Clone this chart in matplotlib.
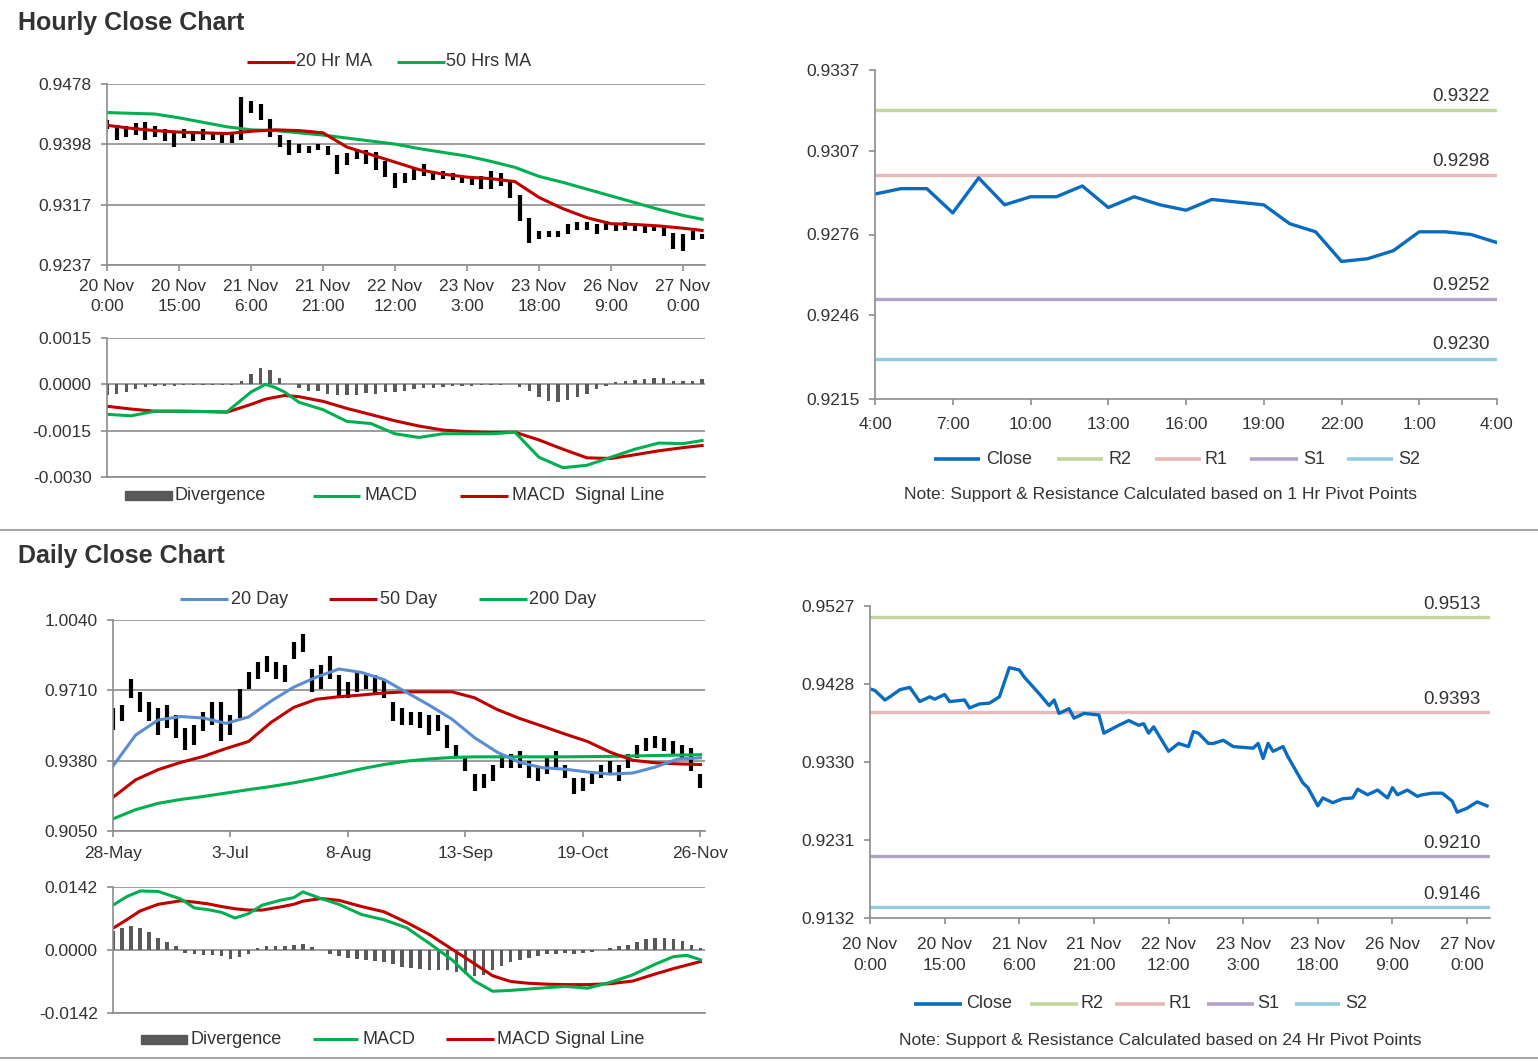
import matplotlib.pyplot as plt
from matplotlib.lines import Line2D
from matplotlib.patches import Rectangle

plt.rcParams['font.family'] = ['Liberation Sans', 'DejaVu Sans']

# ---------------- hourly data (x = hours from 20 Nov 0:00, weekend removed) ----------------
hr_tick_x = [0, 15, 30, 45, 60, 75, 90, 105, 120]
hr_tick_labels = ['20 Nov\n0:00', '20 Nov\n15:00', '21 Nov\n6:00', '21 Nov\n21:00', '22 Nov\n12:00',
                  '23 Nov\n3:00', '23 Nov\n18:00', '26 Nov\n9:00', '27 Nov\n0:00']

hr_bar_x = list(range(0, 125, 2))
hr_hi = [.9430, .9424, .9422, .9426, .9428, .9422, .9418, .9416, .9418, .9416, .9418, .9414, .9410, .9414,
         .9461, .9455, .9452, .9432, .9410, .9404, .9398, .9396, .9398, .9396, .9384, .9386, .9392, .9390,
         .9388, .9376, .9360, .9360, .9366, .9372, .9362, .9362, .9360, .9356, .9354, .9356, .9362, .9360,
         .9350, .9330, .9300, .9282, .9282, .9282, .9292, .9294, .9294, .9292, .9296, .9292, .9294, .9290,
         .9290, .9290, .9288, .9280, .9278, .9282, .9278]
hr_lo = [.9418, .9404, .9408, .9410, .9404, .9408, .9402, .9394, .9406, .9402, .9404, .9404, .9400, .9400,
         .9404, .9440, .9430, .9408, .9394, .9384, .9386, .9386, .9390, .9384, .9358, .9370, .9378, .9372,
         .9364, .9354, .9340, .9346, .9350, .9356, .9350, .9352, .9350, .9346, .9344, .9338, .9338, .9342,
         .9326, .9296, .9266, .9272, .9274, .9274, .9278, .9284, .9284, .9278, .9284, .9282, .9284, .9282,
         .9280, .9282, .9276, .9258, .9256, .9270, .9272]

hr_ma_x = [0, 5, 10, 15, 20, 25, 30, 35, 40, 45, 50, 55, 60, 65, 70, 75, 80, 85, 90, 95, 100, 105, 110,
           115, 120, 124]
ma20_hr = [.9423, .9419, .9416, .9414, .9413, .9412, .9415, .9417, .9416, .9413, .9394, .9384, .9374,
           .9364, .9358, .9354, .9352, .9348, .9327, .9312, .9300, .9292, .9291, .9289, .9286, .9283]
ma50_hr = [.9440, .9439, .9438, .9433, .9427, .9421, .9417, .9416, .9413, .9410, .9406, .9402, .9398,
           .9392, .9387, .9382, .9375, .9367, .9355, .9347, .9338, .9329, .9320, .9311, .9303, .9298]

hr_macd_x = [0, 5, 10, 15, 20, 25, 30, 33, 35, 37, 40, 45, 50, 55, 60, 65, 70, 75, 80, 85, 90, 95, 100,
             105, 110, 115, 120, 124]
macd_hr = [-.00097, -.00102, -.00087, -.00087, -.00088, -.00089, -.00025, .00000, -.00010, -.00025,
           -.00058, -.00082, -.00120, -.00127, -.00160, -.00172, -.00160, -.00160, -.00160, -.00155,
           -.00236, -.00270, -.00262, -.00236, -.00210, -.00190, -.00192, -.00182]
signal_hr = [-.00071, -.00080, -.00087, -.00087, -.00088, -.00090, -.00065, -.00048, -.00042, -.00036,
             -.00040, -.00055, -.00078, -.00098, -.00118, -.00135, -.00148, -.00153, -.00156, -.00155,
             -.00180, -.00210, -.00238, -.00240, -.00228, -.00215, -.00205, -.00198]
div_hr = [-.00034, -.00030, -.00024, -.00015, -.00008, -.00005, -.00004, -.00004, -.00003, -.00003,
          -.00003, -.00002, -.00002, -.00001, .00012, .00035, .00052, .00045, .00020, .00002, -.00012,
          -.00020, -.00022, -.00030, -.00036, -.00035, -.00033, -.00028, -.00030, -.00026, -.00024,
          -.00020, -.00016, -.00012, -.00012, -.00009, -.00006, -.00005, -.00004, -.00003, -.00002,
          -.00001, .00000, -.00010, -.00022, -.00040, -.00055, -.00058, -.00052, -.00040, -.00030,
          -.00015, -.00004, .00006, .00010, .00014, .00017, .00020, .00019, .00012, .00010, .00010, .00016]

# last 24 hours close (26 Nov 4:00 -> 27 Nov 4:00)
close24_labels = ['4:00', '7:00', '10:00', '13:00', '16:00', '19:00', '22:00', '1:00', '4:00']
close24 = [.9291, .9293, .9293, .9284, .9297, .9287, .9290, .9290, .9294, .9286, .9290, .9287, .9285,
           .9289, .9288, .9287, .9280, .9277, .9266, .9267, .9270, .9277, .9277, .9276, .9273]
hr_levels = [0.9322, 0.9298, 0.9252, 0.9230]

# full-week hourly close for the lower right chart
wk_x = [0, 1, 3, 4, 6, 8, 10, 12, 13, 15, 16, 19, 20, 22, 24, 26, 28, 30, 31, 34, 36, 37, 38, 40, 41, 43,
        46, 47, 50, 52, 54, 55, 56, 57, 60, 62, 64, 65, 66, 68, 69, 71, 73, 77, 78, 79, 80, 81, 83, 84, 87,
        88, 90, 91, 93, 95, 97, 98, 100, 102, 104, 105, 106, 108, 110, 111, 113, 115, 117, 118, 120, 122,
        124]
wk_close = [.9422, .9420, .9408, .9412, .9421, .9424, .9406, .9412, .9409, .9415, .9406, .9408, .9398,
            .9403, .9404, .9412, .9449, .9446, .9437, .9416, .9401, .9408, .9391, .9397, .9385, .9391,
            .9389, .9366, .9376, .9382, .9376, .9378, .9366, .9374, .9343, .9353, .9349, .9368, .9366,
            .9353, .9353, .9357, .9349, .9347, .9353, .9334, .9353, .9343, .9349, .9336, .9303, .9297,
            .9274, .9284, .9278, .9283, .9284, .9295, .9288, .9294, .9284, .9297, .9288, .9294, .9286,
            .9288, .9290, .9290, .9280, .9266, .9271, .9279, .9274]
day_levels = [0.9513, 0.9393, 0.9210, 0.9146]

# ---------------- daily data (x = trading day index from 28-May) ----------------
day_tick_x = [0, 26, 52, 78, 104, 130]
day_tick_labels = ['28-May', '3-Jul', '8-Aug', '13-Sep', '19-Oct', '26-Nov']

day_bar_x = list(range(0, 131, 2))
day_hi = [.9625, .9641, .9765, .9703, .9656, .9625, .9641, .9594, .9533, .9548, .9610, .9656, .9656,
          .9594, .9718, .9796, .9842, .9873, .9842, .9827, .9935, .9973, .9811, .9827, .9873, .9780,
          .9749, .9796, .9780, .9780, .9765, .9656, .9625, .9610, .9610, .9594, .9594, .9548, .9455,
          .9393, .9316, .9316, .9362, .9409, .9409, .9424, .9378, .9347, .9393, .9424, .9362, .9300,
          .9300, .9331, .9362, .9378, .9362, .9409, .9455, .9486, .9494, .9486, .9471, .9455, .9440, .9316]
day_lo = [.9525, .9564, .9672, .9610, .9564, .9502, .9533, .9486, .9432, .9455, .9517, .9548, .9471,
          .9502, .9579, .9718, .9765, .9796, .9765, .9749, .9857, .9888, .9703, .9718, .9765, .9672,
          .9672, .9703, .9718, .9687, .9672, .9564, .9548, .9548, .9533, .9502, .9517, .9440, .9393,
          .9331, .9239, .9254, .9285, .9347, .9347, .9347, .9300, .9285, .9316, .9347, .9300, .9223,
          .9239, .9270, .9300, .9316, .9285, .9347, .9393, .9424, .9440, .9424, .9409, .9393, .9331, .9254]

day_ma_x = [0, 5, 10, 15, 20, 25, 30, 35, 40, 45, 50, 55, 60, 65, 70, 75, 80, 85, 90, 95, 100, 105, 110,
            115, 120, 125, 130]
ma20_day = [.9355, .9500, .9571, .9587, .9580, .9555, .9585, .9660, .9725, .9772, .9810, .9794, .9760,
            .9700, .9640, .9575, .9488, .9420, .9372, .9347, .9340, .9327, .9317, .9322, .9350, .9388, .9393]
ma50_day = [.9208, .9290, .9338, .9372, .9400, .9437, .9470, .9560, .9630, .9668, .9680, .9688, .9698,
            .9703, .9703, .9703, .9675, .9620, .9578, .9542, .9505, .9470, .9420, .9382, .9370, .9365, .9362]
ma200_day = [.9107, .9150, .9180, .9198, .9212, .9228, .9244, .9259, .9276, .9296, .9318, .9342, .9362,
             .9378, .9388, .9395, .9398, .9398, .9398, .9398, .9398, .9399, .9400, .9402, .9404, .9406, .9408]

day_macd_x = [0, 3, 6, 10, 15, 18, 21, 24, 27, 30, 33, 37, 40, 42, 46, 50, 55, 60, 65, 70, 75, 80, 84,
              88, 92, 96, 100, 105, 110, 115, 120, 124, 127, 130]
macd_day = [.0101, .0120, .0133, .0132, .0115, .0095, .0091, .0085, .0072, .0082, .0101, .0112, .0118,
            .0131, .0116, .0103, .0080, .0068, .0050, .0015, -.0022, -.0070, -.0093, -.0091, -.0088,
            -.0085, -.0082, -.0086, -.0073, -.0056, -.0032, -.0015, -.0012, -.0022]
signal_day = [.0049, .0068, .0088, .0103, .0111, .0108, .0104, .0098, .0093, .0090, .0090, .0097, .0103,
              .0110, .0116, .0112, .0098, .0086, .0062, .0035, .0002, -.0031, -.0058, -.0071, -.0075,
              -.0077, -.0078, -.0078, -.0076, -.0070, -.0054, -.0042, -.0034, -.0026]
div_day = [.0042, .0050, .0054, .0050, .0040, .0028, .0018, .0008, -.0006, -.0010, -.0012, -.0012, -.0014,
           -.0020, -.0016, -.0008, .0004, .0010, .0010, .0009, .0011, .0014, .0006, .0000, -.0008, -.0014,
           -.0018, -.0020, -.0022, -.0024, -.0026, -.0032, -.0038, -.0040, -.0042, -.0044, -.0046, -.0046,
           -.0050, -.0054, -.0058, -.0056, -.0046, -.0036, -.0028, -.0022, -.0018, -.0014, -.0010, -.0008,
           -.0006, -.0008, -.0006, -.0004, .0000, .0004, .0008, .0012, .0018, .0024, .0026, .0026, .0024,
           .0020, .0012, .0004]

# ---------------- colours ----------------
RED = '#C00000'
GREEN = '#00B050'
BLUE20 = '#5B8ED0'
CLOSE = '#0A6CC0'
DIVC = '#595959'
AX = '#8C8C8C'
TXT = '#333333'
lvl_names = ['R2', 'R1', 'S1', 'S2']
lvl_colors = ['#C3D69B', '#E6B9B8', '#B3A2C7', '#93CDDD']

W, H = 1538, 1061
fig = plt.figure(figsize=(W / 100, H / 100), dpi=100)


def px_axes(x0, y0, x1, y1):
    return fig.add_axes([x0 / W, 1 - y1 / H, (x1 - x0) / W, (y1 - y0) / H])


def fline(x0, x1, y, color, lw=2.2):
    fig.add_artist(Line2D([x0 / W, x1 / W], [1 - y / H, 1 - y / H], color=color, lw=lw,
                          solid_capstyle='butt'))


def ftext(x, y, s, size=13, **kw):
    fig.text(x / W, 1 - y / H, s, fontsize=size, color=TXT, va='center', **kw)


def fbox(x0, x1, y, h, color):
    fig.add_artist(Rectangle((x0 / W, 1 - (y + h / 2) / H), (x1 - x0) / W, h / H, color=color,
                             transform=fig.transFigure))


def style(ax, grid):
    ax.spines['top'].set_visible(False)
    ax.spines['right'].set_visible(False)
    ax.spines['left'].set_color(AX)
    ax.spines['bottom'].set_color(AX)
    ax.spines['left'].set_linewidth(1.2)
    ax.spines['bottom'].set_linewidth(1.2)
    ax.tick_params(colors=AX, labelcolor=TXT, labelsize=12.5, length=4, width=1.2, pad=7)
    if grid:
        ax.yaxis.grid(True, color=AX, lw=1.2)
        ax.set_axisbelow(True)


def set_yticks(ax, ticks):
    ax.set_yticks(ticks)
    ax.set_yticklabels([f'{v:.4f}' for v in ticks])
    ax.set_ylim(ticks[0], ticks[-1])


# ---------------- titles and separators ----------------
fig.text(18 / W, 1 - 23 / H, 'Hourly Close Chart', fontsize=18, fontweight='bold', color=TXT, va='center')
fig.text(18 / W, 1 - 556 / H, 'Daily Close Chart', fontsize=18, fontweight='bold', color=TXT, va='center')
fline(0, W, 530, '#A6A6A6', lw=1.5)
fline(0, W, 1058, '#A6A6A6', lw=1.5)

# ---------------- hourly price ----------------
ax1 = px_axes(107, 84, 705, 265)
style(ax1, True)
ax1.vlines(hr_bar_x, hr_lo, hr_hi, color='black', lw=3)
ax1.plot(hr_ma_x, ma50_hr, color=GREEN, lw=2.2)
ax1.plot(hr_ma_x, ma20_hr, color=RED, lw=2.2)
set_yticks(ax1, [0.9237, 0.9317, 0.9398, 0.9478])
ax1.set_xlim(0, 124.6)
ax1.set_xticks(hr_tick_x)
ax1.set_xticklabels(hr_tick_labels, linespacing=1.4)
ax1.tick_params(axis='x', pad=6)
fline(247, 295, 62, RED)
ftext(296, 62, '20 Hr MA')
fline(397, 445, 62, GREEN)
ftext(446, 62, '50 Hrs MA')

# ---------------- hourly MACD ----------------
ax2 = px_axes(107, 338, 705, 477)
style(ax2, True)
ax2.bar(hr_bar_x, div_hr, width=0.7, color=DIVC)
ax2.plot(hr_macd_x, signal_hr, color=RED, lw=2.2)
ax2.plot(hr_macd_x, macd_hr, color=GREEN, lw=2.2)
ax2.set_yticks([-0.003, -0.0015, 0, 0.0015])
ax2.set_yticklabels(['-0.0030', '-0.0015', '0.0000', '0.0015'])
ax2.set_ylim(-0.003, 0.0015)
ax2.set_xlim(0, 124.6)
ax2.set_xticks([])
fbox(125, 172, 496, 9, DIVC)
ftext(174, 496, 'Divergence')
fline(313, 360, 496, GREEN)
ftext(364, 496, 'MACD')
fline(460, 508, 496, RED)
ftext(512, 496, 'MACD  Signal Line')

# ---------------- last 24 hour close ----------------
ax3 = px_axes(875, 70, 1497, 399)
style(ax3, False)
for lvl, col in zip(hr_levels, lvl_colors):
    ax3.axhline(lvl, color=col, lw=2.4)
    ax3.annotate(f'{lvl:.4f}', xy=(1, lvl), xycoords=('axes fraction', 'data'), xytext=(-5, 4),
                 textcoords='offset points', ha='right', va='bottom', fontsize=13.5, color=TXT)
ax3.plot(range(len(close24)), close24, color=CLOSE, lw=2.4)
set_yticks(ax3, [0.9215, 0.9246, 0.9276, 0.9307, 0.9337])
ax3.set_xlim(0, 24)
ax3.set_xticks(range(0, 25, 3))
ax3.set_xticklabels(close24_labels)
ax3.tick_params(axis='x', pad=9)

leg_top = [(934, 980, 986, 'Close', CLOSE), (1057, 1103, 1108, 'R2', lvl_colors[0]),
           (1155, 1201, 1205, 'R1', lvl_colors[1]), (1250, 1298, 1303, 'S1', lvl_colors[2]),
           (1347, 1393, 1398, 'S2', lvl_colors[3])]
for x0, x1, xt, name, col in leg_top:
    fline(x0, x1, 459, col, lw=2.6)
    ftext(xt, 459, name)
ftext(1160, 494, 'Note: Support & Resistance Calculated based on 1 Hr Pivot Points', size=12.5, ha='center')

# ---------------- daily price ----------------
ax4 = px_axes(113, 620, 705, 831)
style(ax4, True)
ax4.vlines(day_bar_x, day_lo, day_hi, color='black', lw=3)
ax4.plot(day_ma_x, ma200_day, color=GREEN, lw=2.2)
ax4.plot(day_ma_x, ma50_day, color=RED, lw=2.2)
ax4.plot(day_ma_x, ma20_day, color=BLUE20, lw=2.2)
set_yticks(ax4, [0.9050, 0.9380, 0.9710, 1.0040])
ax4.set_xlim(0, 131)
ax4.set_xticks(day_tick_x)
ax4.set_xticklabels(day_tick_labels)
fline(180, 228, 599, BLUE20)
ftext(231, 599, '20 Day')
fline(329, 377, 599, RED)
ftext(380, 599, '50 Day')
fline(479, 527, 599, GREEN)
ftext(529, 599, '200 Day')

# ---------------- daily MACD ----------------
ax5 = px_axes(113, 887, 705, 1013)
style(ax5, True)
ax5.bar(day_bar_x, div_day, width=0.8, color=DIVC)
ax5.plot(day_macd_x, signal_day, color=RED, lw=2.2)
ax5.plot(day_macd_x, macd_day, color=GREEN, lw=2.2)
ax5.set_yticks([-0.0142, 0, 0.0142])
ax5.set_yticklabels(['-0.0142', '0.0000', '0.0142'])
ax5.set_ylim(-0.0142, 0.0142)
ax5.set_xlim(0, 131)
ax5.set_xticks([])
fbox(141, 187, 1039, 9, DIVC)
ftext(191, 1039, 'Divergence')
fline(313, 358, 1039, GREEN)
ftext(362, 1039, 'MACD')
fline(446, 494, 1039, RED)
ftext(497, 1039, 'MACD Signal Line')

# ---------------- week hourly close with daily pivots ----------------
ax6 = px_axes(870, 606, 1490, 918)
style(ax6, False)
for lvl, col in zip(day_levels, lvl_colors):
    ax6.annotate(f'{lvl:.4f}', xy=(1, lvl), xycoords=('axes fraction', 'data'), xytext=(-7, 3),
                 textcoords='offset points', ha='right', va='bottom', fontsize=13.5, color=TXT)
    ax6.axhline(lvl, color=col, lw=2.4)
ax6.plot(wk_x, wk_close, color=CLOSE, lw=2.4)
set_yticks(ax6, [0.9132, 0.9231, 0.9330, 0.9428, 0.9527])
ax6.set_xlim(0, 124.6)
ax6.set_xticks(hr_tick_x)
ax6.set_xticklabels(hr_tick_labels, linespacing=1.5)
ax6.tick_params(axis='x', pad=10)

leg_bot = [(914, 962, 966, 'Close', CLOSE), (1030, 1078, 1081, 'R2', lvl_colors[0]),
           (1115, 1165, 1169, 'R1', lvl_colors[1]), (1207, 1254, 1257, 'S1', lvl_colors[2]),
           (1295, 1340, 1345, 'S2', lvl_colors[3])]
for x0, x1, xt, name, col in leg_bot:
    fline(x0, x1, 1004, col, lw=2.6)
    ftext(xt, 1004, name)
ftext(1160, 1040, 'Note: Support & Resistance Calculated based on 24 Hr Pivot Points', size=12.5, ha='center')

fig.savefig('out.png', dpi=100, facecolor='white')
